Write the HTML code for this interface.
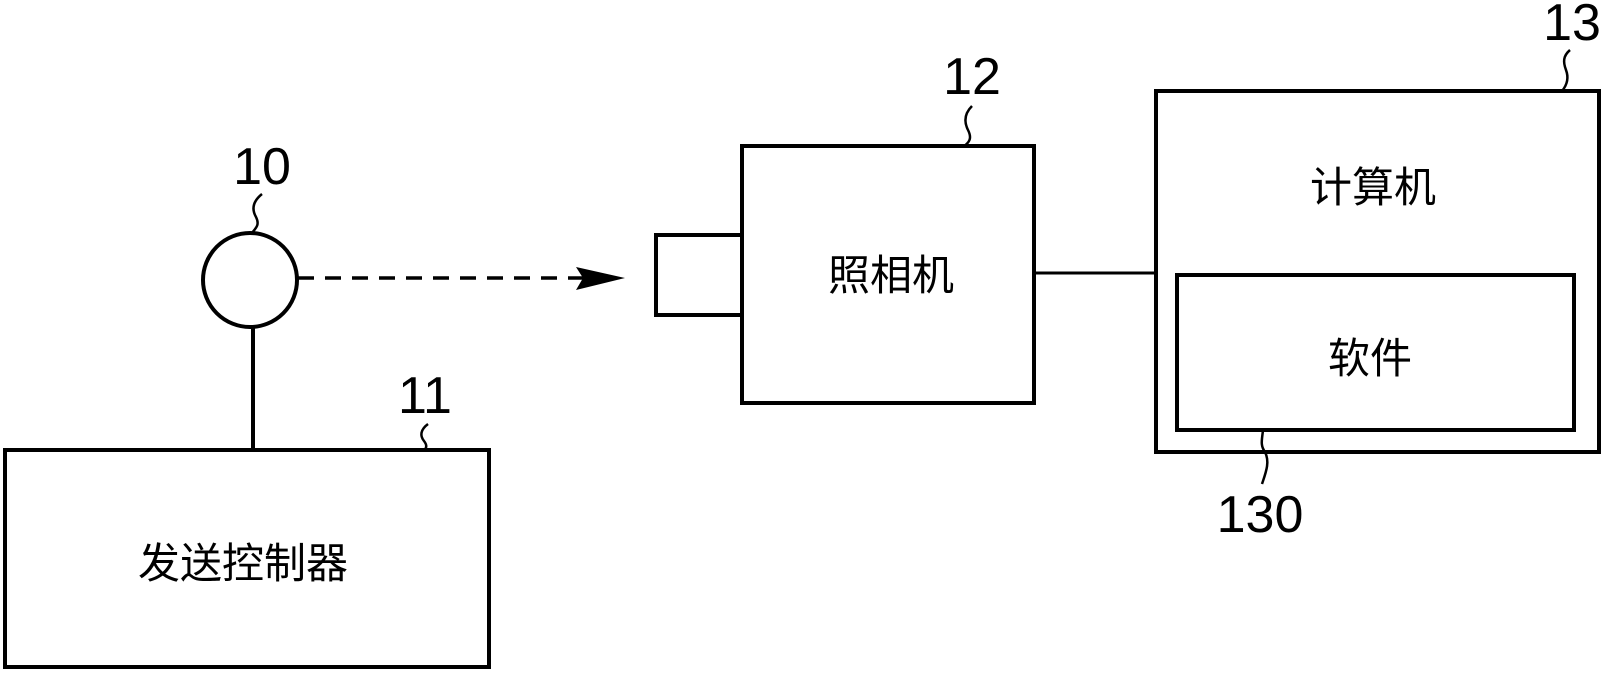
<!DOCTYPE html>
<html><head><meta charset="utf-8"><style>
html,body{margin:0;padding:0;background:#fff;}
svg{display:block;}
text{font-family:"Liberation Sans","Noto Sans CJK SC",sans-serif;fill:#000;}
</style></head><body>
<svg width="1603" height="674" viewBox="0 0 1603 674" xmlns="http://www.w3.org/2000/svg">
<g fill="none" stroke="#000" stroke-width="4">
<rect x="5" y="450" width="484" height="217"/>
<line x1="253" y1="327" x2="253" y2="450"/>
<circle cx="250" cy="280" r="47"/>
<line x1="298" y1="278" x2="585" y2="278" stroke-dasharray="16,11" stroke-width="3.5"/>
<rect x="742" y="146" width="292" height="257"/>
<rect x="656" y="235" width="86" height="80"/>
<line x1="1034" y1="273" x2="1155" y2="273" stroke-width="3"/>
<rect x="1156" y="91" width="443" height="361"/>
<rect x="1177" y="275" width="397" height="155"/>
<path d="M262 194 C252 202,252 210,256 217 C260 225,256 228,251 234" stroke-width="2.5"/>
<path d="M428 424 C420 430,420 436,424 441 C428 446,426 449,423 451" stroke-width="2.5"/>
<path d="M972 106 C964 114,964 122,968 130 C972 138,970 142,963 147" stroke-width="2.5"/>
<path d="M1570 50 C1563 56,1563 62,1566 70 C1569 78,1567 85,1562 91" stroke-width="2.5"/>
<path d="M1263 430 C1262 440,1260 445,1265 452 C1270 462,1266 472,1262 484" stroke-width="2.5"/>
</g>
<polygon points="625,278 576,267 583,278 576,290" fill="#000"/>
<g font-size="42" text-anchor="middle">
<text x="243" y="578">发送控制器</text>
<text x="891" y="290">照相机</text>
<text x="1373" y="202">计算机</text>
<text x="1370" y="373">软件</text>
</g>
<g font-size="52" text-anchor="middle">
<text x="262" y="184">10</text>
<text x="425" y="413">11</text>
<text x="972" y="94">12</text>
<text x="1572" y="40">13</text>
<text x="1260" y="532">130</text>
</g>
</svg>
</body></html>
